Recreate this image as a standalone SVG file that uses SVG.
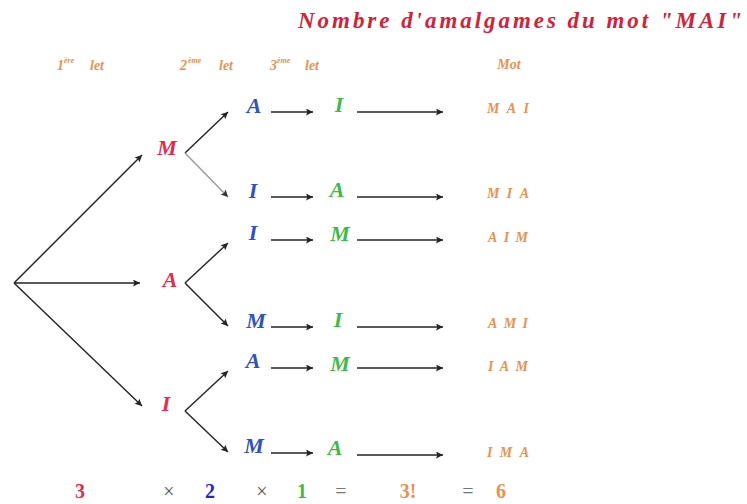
<svg xmlns="http://www.w3.org/2000/svg" width="747" height="504" viewBox="0 0 747 504">
  <defs>
    <marker id="arrow" viewBox="0 0 10 10" refX="10" refY="5" markerWidth="10" markerHeight="7" markerUnits="userSpaceOnUse" orient="auto">
      <path d="M0,0 L10,5 L0,10 L2,5 z" fill="#222"/>
    </marker>
    <marker id="arrow-grey" viewBox="0 0 10 10" refX="10" refY="5" markerWidth="10" markerHeight="7" markerUnits="userSpaceOnUse" orient="auto">
      <path d="M0,0 L10,5 L0,10 L2,5 z" fill="#333"/>
    </marker>
  </defs>
  <style>
    .lt { font-family: "Liberation Serif", "DejaVu Serif", serif; font-style: italic; font-weight: bold; }
    .title { font-size: 23px; fill: #d4213a; }
    .head { font-size: 14px; fill: #e8924e; }
    .sup { font-size: 8px; }
    .l1 { font-size: 22px; fill: #e52a52; text-anchor: middle; }
    .l2 { font-size: 22px; fill: #2f52c2; text-anchor: middle; }
    .l3 { font-size: 22px; fill: #3fba47; text-anchor: middle; }
    .word { font-size: 14px; fill: #e8924e; text-anchor: middle; }
    .eq { font-family: "Liberation Serif", "DejaVu Serif", serif; font-weight: bold; font-size: 20px; text-anchor: middle; }
    .op { font-weight: normal; }
    .edge { stroke: #222; stroke-width: 1.4; fill: none; marker-end: url(#arrow); }
    .edge-light { stroke: #9a9a9a; stroke-width: 1.4; fill: none; marker-end: url(#arrow-grey); }
  </style>
  <rect width="747" height="504" fill="#ffffff"/>

  <!-- title -->
  <text class="lt title" x="298" y="28" textLength="444" lengthAdjust="spacing">Nombre d'amalgames du mot "MAI"</text>

  <!-- column headers -->
  <g id="headers" class="lt head">
    <text x="57" y="70">1</text><text class="sup" x="64" y="63">ère</text><text x="90" y="70">let</text>
    <text x="180" y="70">2</text><text class="sup" x="188" y="63">ème</text><text x="219" y="70">let</text>
    <text x="270" y="70">3</text><text class="sup" x="277" y="63">ème</text><text x="305" y="70">let</text>
    <text x="509" y="69" text-anchor="middle">Mot</text>
  </g>

  <!-- connectors of the tree -->
  <g id="connectors">
    <line class="edge" x1="14" y1="283" x2="142" y2="155"/>
    <line class="edge" x1="14" y1="283" x2="140" y2="283"/>
    <line class="edge" x1="14" y1="283" x2="142" y2="406"/>

    <line class="edge" x1="185" y1="153" x2="228" y2="112"/>
    <line class="edge-light" x1="185" y1="153" x2="228" y2="197"/>
    <line class="edge" x1="185" y1="283" x2="228" y2="243"/>
    <line class="edge" x1="185" y1="283" x2="228" y2="326"/>
    <line class="edge" x1="185" y1="411" x2="228" y2="371"/>
    <line class="edge" x1="185" y1="411" x2="228" y2="452"/>

    <line class="edge" x1="271" y1="112" x2="313" y2="112"/>
    <line class="edge" x1="357" y1="112" x2="443" y2="112"/>
    <line class="edge" x1="271" y1="197" x2="313" y2="197"/>
    <line class="edge" x1="357" y1="197" x2="443" y2="197"/>
    <line class="edge" x1="271" y1="240" x2="313" y2="240"/>
    <line class="edge" x1="357" y1="240" x2="443" y2="240"/>
    <line class="edge" x1="271" y1="327" x2="313" y2="327"/>
    <line class="edge" x1="357" y1="327" x2="443" y2="327"/>
    <line class="edge" x1="271" y1="368" x2="313" y2="368"/>
    <line class="edge" x1="357" y1="368" x2="443" y2="368"/>
    <line class="edge" x1="271" y1="453" x2="313" y2="453"/>
    <line class="edge" x1="357" y1="455" x2="443" y2="455"/>
  </g>

  <!-- first letter -->
  <g id="n1-M"><text class="lt l1" x="167" y="155">M</text></g>
  <g id="n1-A"><text class="lt l1" x="170" y="287">A</text></g>
  <g id="n1-I"><text class="lt l1" x="166" y="411">I</text></g>

  <!-- second letter -->
  <g id="n2-MA"><text class="lt l2" x="254" y="113">A</text></g>
  <g id="n2-MI"><text class="lt l2" x="253" y="198">I</text></g>
  <g id="n2-AI"><text class="lt l2" x="253" y="240">I</text></g>
  <g id="n2-AM"><text class="lt l2" x="256" y="328">M</text></g>
  <g id="n2-IA"><text class="lt l2" x="253" y="368">A</text></g>
  <g id="n2-IM"><text class="lt l2" x="254" y="453">M</text></g>

  <!-- third letter -->
  <g id="n3-MAI"><text class="lt l3" x="339" y="112">I</text></g>
  <g id="n3-MIA"><text class="lt l3" x="337" y="197">A</text></g>
  <g id="n3-AIM"><text class="lt l3" x="340" y="241">M</text></g>
  <g id="n3-AMI"><text class="lt l3" x="338" y="327">I</text></g>
  <g id="n3-IAM"><text class="lt l3" x="340" y="371">M</text></g>
  <g id="n3-IMA"><text class="lt l3" x="335" y="455">A</text></g>

  <!-- resulting words -->
  <g id="w-MAI"><text class="lt word" x="508" y="113" textLength="42" lengthAdjust="spacing">MAI</text></g>
  <g id="w-MIA"><text class="lt word" x="508" y="198" textLength="42" lengthAdjust="spacing">MIA</text></g>
  <g id="w-AIM"><text class="lt word" x="508" y="242" textLength="40" lengthAdjust="spacing">AIM</text></g>
  <g id="w-AMI"><text class="lt word" x="508" y="328" textLength="40" lengthAdjust="spacing">AMI</text></g>
  <g id="w-IAM"><text class="lt word" x="508" y="371" textLength="40" lengthAdjust="spacing">IAM</text></g>
  <g id="w-IMA"><text class="lt word" x="508" y="457" textLength="42" lengthAdjust="spacing">IMA</text></g>

  <!-- counting line -->
  <g id="count" class="eq">
    <text x="80" y="498" fill="#e52a52">3</text>
    <text class="op" x="169" y="498" fill="#555">×</text>
    <text x="210" y="498" fill="#2424d4">2</text>
    <text class="op" x="262" y="498" fill="#555">×</text>
    <text x="302" y="498" fill="#3fba47">1</text>
    <text class="op" x="341" y="498" fill="#777">=</text>
    <text x="408" y="498" fill="#e8924e">3!</text>
    <text class="op" x="468" y="498" fill="#777">=</text>
    <text x="501" y="498" fill="#e8924e">6</text>
  </g>
</svg>
